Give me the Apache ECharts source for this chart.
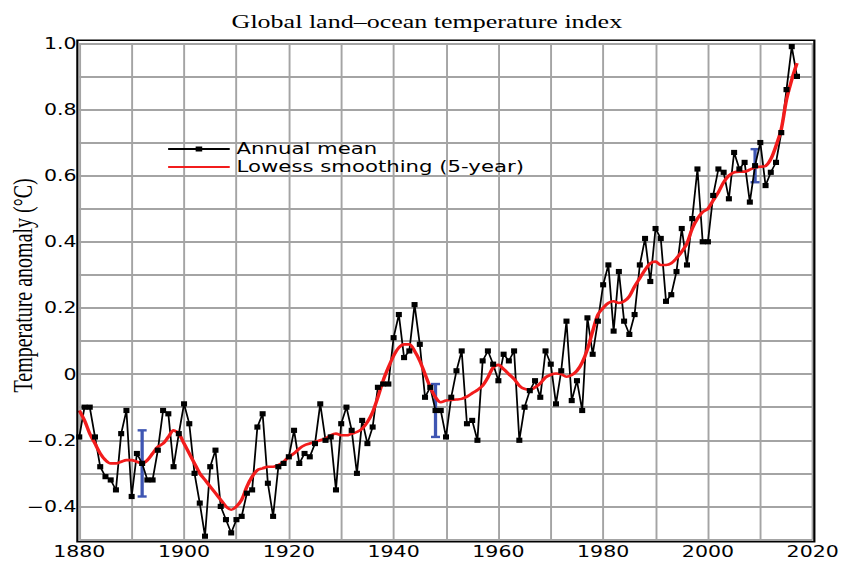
<!DOCTYPE html>
<html><head><meta charset="utf-8">
<script src="https://cdn.jsdelivr.net/npm/echarts@6/dist/echarts.min.js"></script>
<style>
html,body{margin:0;padding:0;background:#fff;overflow:hidden;width:842px;height:561px}
#chart{width:615px;height:561px;transform:scaleX(1.36911);transform-origin:0 0}
</style></head><body><div id="chart"></div>
<script>
const years = [
  1880,1881,1882,1883,1884,1885,1886,1887,1888,1889,
  1890,1891,1892,1893,1894,1895,1896,1897,1898,1899,
  1900,1901,1902,1903,1904,1905,1906,1907,1908,1909,
  1910,1911,1912,1913,1914,1915,1916,1917,1918,1919,
  1920,1921,1922,1923,1924,1925,1926,1927,1928,1929,
  1930,1931,1932,1933,1934,1935,1936,1937,1938,1939,
  1940,1941,1942,1943,1944,1945,1946,1947,1948,1949,
  1950,1951,1952,1953,1954,1955,1956,1957,1958,1959,
  1960,1961,1962,1963,1964,1965,1966,1967,1968,1969,
  1970,1971,1972,1973,1974,1975,1976,1977,1978,1979,
  1980,1981,1982,1983,1984,1985,1986,1987,1988,1989,
  1990,1991,1992,1993,1994,1995,1996,1997,1998,1999,
  2000,2001,2002,2003,2004,2005,2006,2007,2008,2009,
  2010,2011,2012,2013,2014,2015,2016,2017
];
const annualMean = [
  -0.19,-0.10,-0.10,-0.19,-0.28,-0.31,-0.32,-0.35,-0.18,-0.11,
  -0.37,-0.24,-0.27,-0.32,-0.32,-0.23,-0.11,-0.12,-0.28,-0.18,
  -0.09,-0.15,-0.30,-0.39,-0.49,-0.28,-0.23,-0.40,-0.44,-0.48,
  -0.44,-0.43,-0.36,-0.35,-0.16,-0.12,-0.33,-0.43,-0.28,-0.27,
  -0.25,-0.17,-0.27,-0.24,-0.25,-0.21,-0.09,-0.20,-0.19,-0.35,
  -0.15,-0.10,-0.17,-0.30,-0.14,-0.21,-0.16,-0.04,-0.03,-0.03,
  0.11,0.18,0.05,0.07,0.21,0.09,-0.07,-0.04,-0.11,-0.11,
  -0.19,-0.07,0.01,0.07,-0.15,-0.14,-0.20,0.04,0.07,0.03,
  -0.02,0.06,0.04,0.07,-0.20,-0.10,-0.05,-0.02,-0.07,0.07,
  0.03,-0.09,0.01,0.16,-0.08,-0.02,-0.11,0.17,0.06,0.16,
  0.27,0.33,0.13,0.31,0.16,0.12,0.18,0.33,0.41,0.28,
  0.44,0.41,0.22,0.24,0.31,0.44,0.33,0.47,0.62,0.40,
  0.40,0.54,0.62,0.61,0.53,0.67,0.62,0.64,0.52,0.63,
  0.70,0.57,0.61,0.64,0.73,0.86,0.99,0.90
];
const lowess5yr = [
  -0.11,-0.14,-0.18,-0.21,-0.24,-0.26,-0.27,-0.27,-0.265,-0.26,
  -0.26,-0.265,-0.27,-0.26,-0.24,-0.22,-0.21,-0.19,-0.17,-0.18,
  -0.21,-0.24,-0.27,-0.30,-0.32,-0.34,-0.36,-0.38,-0.40,-0.41,
  -0.40,-0.38,-0.34,-0.31,-0.29,-0.285,-0.28,-0.28,-0.275,-0.265,
  -0.25,-0.24,-0.225,-0.215,-0.21,-0.205,-0.20,-0.195,-0.185,-0.18,
  -0.185,-0.185,-0.18,-0.175,-0.165,-0.145,-0.115,-0.07,-0.02,0.02,
  0.055,0.08,0.09,0.09,0.07,0.04,0.00,-0.04,-0.07,-0.085,
  -0.08,-0.078,-0.077,-0.075,-0.068,-0.058,-0.048,-0.035,-0.01,0.02,
  0.028,0.015,0.0,-0.015,-0.035,-0.045,-0.048,-0.04,-0.028,-0.01,
  -0.002,0.002,0.0,-0.008,-0.003,0.01,0.035,0.075,0.13,0.18,
  0.20,0.215,0.22,0.215,0.22,0.235,0.265,0.29,0.315,0.335,
  0.34,0.33,0.33,0.335,0.35,0.37,0.395,0.44,0.47,0.49,
  0.50,0.525,0.55,0.58,0.60,0.61,0.612,0.612,0.618,0.625,
  0.627,0.629,0.65,0.69,0.74,0.83,0.89,0.94
];
// [year, low, high]
const errorBars = [[1892,-0.37,-0.17],[1948,-0.19,-0.03],[2009,0.58,0.68]];
const xTickYears = [1880,1900,1920,1940,1960,1980,2000,2020];
const yTickValues = [-0.4,-0.2,0,0.2,0.4,0.6,0.8,1.0];
const yTickLabels = ['\u22120.4','\u22120.2','0','0.2','0.4','0.6','0.8','1.0'];

const annualPairs = years.map((y,i)=>[y, annualMean[i]]);
const lowessPairs = years.map((y,i)=>[y, lowess5yr[i]]);

const chart = echarts.init(document.getElementById('chart'), null, {renderer:'svg'});
const gridColor = '#a4a4a4';
const errColor = '#3f56b3';
chart.setOption({
  animation:false,
  backgroundColor:'#fff',
  title:{
    text:'Global land\u2013ocean temperature index',
    left:306.8, top:7, textAlign:'center',
    textStyle:{fontFamily:'Liberation Serif', fontSize:19, fontWeight:'normal', color:'#000'}
  },
  legend:{
    data:[
      {name:'Annual mean'},
      {name:'Lowess smoothing (5-year)', itemStyle:{opacity:0}}
    ],
    orient:'vertical', left:116.8, top:136, itemWidth:45, itemHeight:6, itemGap:2,
    textStyle:{fontFamily:'DejaVu Sans', fontSize:15.5, color:'#000'},
    selectedMode:false
  },
  grid:{left:57.9, right:21.4, top:43.3, bottom:21.5, containLabel:false, outerBoundsMode:'none'},
  xAxis:{
    type:'value', min:1880, max:2020, interval:10,
    axisLine:{show:false}, axisTick:{show:false},
    axisLabel:{
      margin:5, fontFamily:'DejaVu Sans', fontSize:15, color:'#000',
      formatter:v=> xTickYears.indexOf(Math.round(v))>=0 ? String(Math.round(v)) : ''
    },
    splitLine:{show:true, lineStyle:{color:gridColor, width:1.4}}
  },
  yAxis:{
    type:'value', min:-0.5, max:1.0, interval:0.1,
    name:'Temperature anomaly (\u00B0C)', nameLocation:'middle', nameGap:31, nameRotate:90,
    nameMoveOverlap:false,
    nameTextStyle:{fontFamily:'Liberation Serif', fontSize:20, color:'#000', padding:[0,0,0,12]},
    axisLine:{show:false}, axisTick:{show:false},
    axisLabel:{
      margin:2, fontFamily:'DejaVu Sans', fontSize:15, color:'#000',
      formatter:v=>{ const k=yTickValues.findIndex(t=>Math.abs(t-v)<1e-6); return k>=0?yTickLabels[k]:''; }
    },
    splitLine:{show:true, lineStyle:{color:gridColor, width:1.8}}
  },
  graphic:[{
    type:'rect', z:100,
    shape:{x:56.5, y:40.3, width:538.3, height:501.4},
    style:{fill:'none', stroke:'#000', lineWidth:1.6}
  }],
  series:[
    {
      name:'Uncertainty', type:'custom', data:errorBars, encode:{x:0, y:[1,2]},
      renderItem:function(params, api){
        const x=api.value(0), lo=api.value(1), hi=api.value(2);
        const a=api.coord([x,lo]), b=api.coord([x,hi]);
        const hw=3.3;
        const st={stroke:errColor, lineWidth:2.4};
        return {type:'group', children:[
          {type:'line', shape:{x1:a[0],y1:a[1],x2:b[0],y2:b[1]}, style:st},
          {type:'line', shape:{x1:a[0]-hw,y1:a[1],x2:a[0]+hw,y2:a[1]}, style:st},
          {type:'line', shape:{x1:b[0]-hw,y1:b[1],x2:b[0]+hw,y2:b[1]}, style:st}
        ]};
      }
    },
    {
      name:'Annual mean', type:'line', data:annualPairs,
      symbol:'rect', symbolSize:[4.4,5.2],
      lineStyle:{color:'#000', width:1.3}, itemStyle:{color:'#000'}
    },
    {
      name:'Lowess smoothing (5-year)', type:'line', data:lowessPairs,
      symbol:'none', smooth:0.3,
      lineStyle:{color:'#f21c1c', width:2.6}, itemStyle:{color:'#f21c1c'}
    }
  ]
});
</script></body></html>
